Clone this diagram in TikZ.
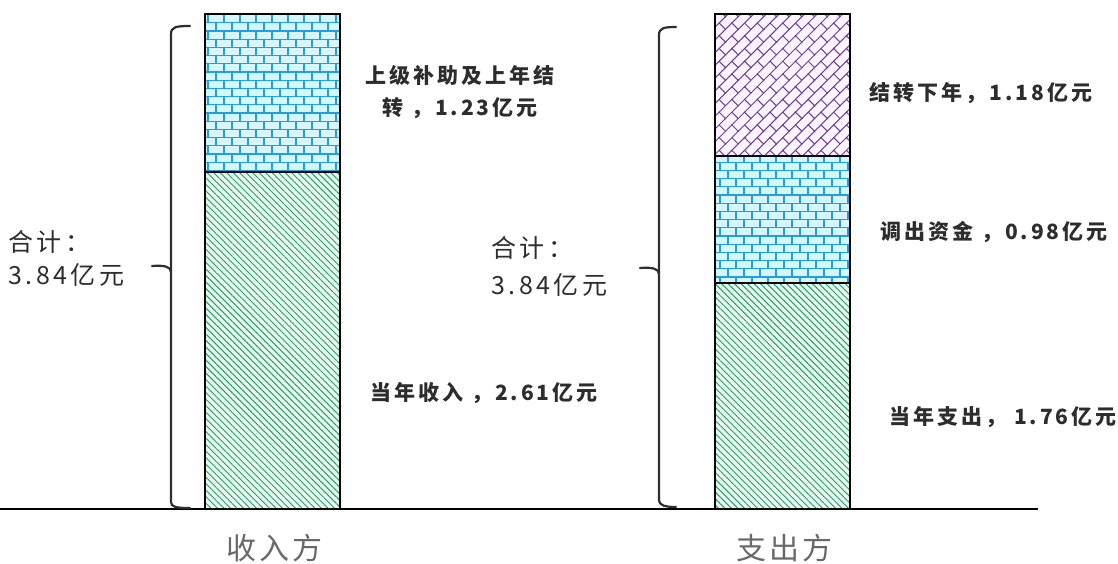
\documentclass[tikz,border=0pt]{standalone}
\usepackage{fontspec}
\usepackage{tikz}
\usetikzlibrary{patterns,patterns.meta}
\newfontfamily\cjk[LetterSpace=14]{Noto Sans CJK SC}
\newfontfamily\cjkside[LetterSpace=10]{Noto Sans CJK SC}
\definecolor{brickline}{RGB}{30,160,220}
\definecolor{brickfill}{RGB}{214,245,255}
\definecolor{hatchline}{RGB}{40,155,105}
\definecolor{hatchfill}{RGB}{232,250,240}
\definecolor{weaveline}{RGB}{115,60,155}
\definecolor{weavefill}{RGB}{251,246,255}
\definecolor{txt}{RGB}{45,45,45}
\definecolor{sidetxt}{RGB}{105,105,105}
% brick wall, straight and turned by 45 degrees
\pgfdeclarepattern{
  name=bricks, type=uncolored,
  bottom left={\pgfpoint{-1pt}{-1pt}}, top right={\pgfpoint{17pt}{17.4pt}},
  tile size={\pgfpoint{16pt}{16.4pt}},
  code={
    \pgfsetlinewidth{1.3pt}
    \pgfpathmoveto{\pgfpoint{-1pt}{0pt}}\pgfpathlineto{\pgfpoint{17pt}{0pt}}
    \pgfpathmoveto{\pgfpoint{-1pt}{8.2pt}}\pgfpathlineto{\pgfpoint{17pt}{8.2pt}}
    \pgfpathmoveto{\pgfpoint{0pt}{0pt}}\pgfpathlineto{\pgfpoint{0pt}{8.2pt}}
    \pgfpathmoveto{\pgfpoint{8pt}{8.2pt}}\pgfpathlineto{\pgfpoint{8pt}{16.4pt}}
    \pgfusepath{stroke}
  }}
\pgfdeclarepattern{
  name=weave, type=uncolored,
  bottom left={\pgfpoint{-1pt}{-1pt}}, top right={\pgfpoint{19pt}{19pt}},
  tile size={\pgfpoint{18pt}{18pt}}, tile transformation={\pgftransformrotate{45}},
  code={
    \pgfsetlinewidth{1pt}
    \pgfpathmoveto{\pgfpoint{-1pt}{0pt}}\pgfpathlineto{\pgfpoint{19pt}{0pt}}
    \pgfpathmoveto{\pgfpoint{-1pt}{9pt}}\pgfpathlineto{\pgfpoint{19pt}{9pt}}
    \pgfpathmoveto{\pgfpoint{0pt}{0pt}}\pgfpathlineto{\pgfpoint{0pt}{9pt}}
    \pgfpathmoveto{\pgfpoint{9pt}{9pt}}\pgfpathlineto{\pgfpoint{9pt}{18pt}}
    \pgfusepath{stroke}
  }}

\begin{document}
\begin{tikzpicture}[x=1pt,y=-1pt,
    lbl/.style={font=\cjk\bfseries\fontsize{21}{32}\selectfont, text=txt, inner sep=0, align=center},
    tot/.style={font=\cjk\fontsize{25}{33}\selectfont, text=txt, inner sep=0, align=left, anchor=west},
    side/.style={font=\cjkside\fontsize{30}{34}\selectfont, text=sidetxt, inner sep=0},
    brace/.style={line width=2.2pt, color=black!82, line cap=round, line join=round},
    brk/.style={line width=1.3pt, preaction={fill=brickfill}, pattern=bricks, pattern color=brickline},
    hatch/.style={line width=1.3pt, preaction={fill=hatchfill}, pattern={Lines[angle=-45,distance=4.6pt,line width=0.95pt]}, pattern color=hatchline},
    wv/.style={line width=1.3pt, preaction={fill=weavefill}, pattern=weave, pattern color=weaveline}]
		\useasboundingbox (0,0) rectangle (1118,564);
		%%%%% START %%%%%
		
		% income side
		\draw[brk] (205,14) rectangle (340,172);
		\draw[hatch] (205,172) rectangle (340,509);
		
		% spending side
		\draw[wv] (715,14) rectangle (850,156);
		\draw[brk] (715,156) rectangle (850,283);
		\draw[hatch] (715,283) rectangle (850,509);
		
		\draw[line width=1.6pt] (0,509) -- (1038,509);
		
		% braces
		\draw[brace] (190,26) .. controls (176,26) and (171,27) .. (171,34) -- (171,502) .. controls (171,507) and (176,508) .. (190,508);
		\draw[brace] (152,266) .. controls (165,265) and (171,267) .. (171,272);
		\draw[brace] (676,27) .. controls (664,27) and (659,28) .. (659,35) -- (659,500) .. controls (659,505) and (664,507) .. (676,507);
		\draw[brace] (640,268) .. controls (653,267) and (659,269) .. (659,274);
		
		\node[lbl] (inTop) at (460,92) {上级补助及上年结\\转 ，1.23亿元};
		\node[lbl] (inLow) at (484,393) {当年收入 ，2.61亿元};
		\node[tot] (inSum) at (8,258) {合计：\\3.84亿元};
		
		\node[lbl] (outTop) at (981,93) {结转下年，1.18亿元};
		\node[lbl] (outMid) at (994,232) {调出资金 ，0.98亿元};
		\node[lbl] (outLow) at (1003,417) {当年支出， 1.76亿元};
		\node[tot] (outSum) at (491,266) {合计：\\[4pt]3.84亿元};
		
		\node[side] (inName) at (274,548) {收入方};
		\node[side] (outName) at (784,548) {支出方};
		
		%%%%% END %%%%%
	\end{tikzpicture}
\end{document}
